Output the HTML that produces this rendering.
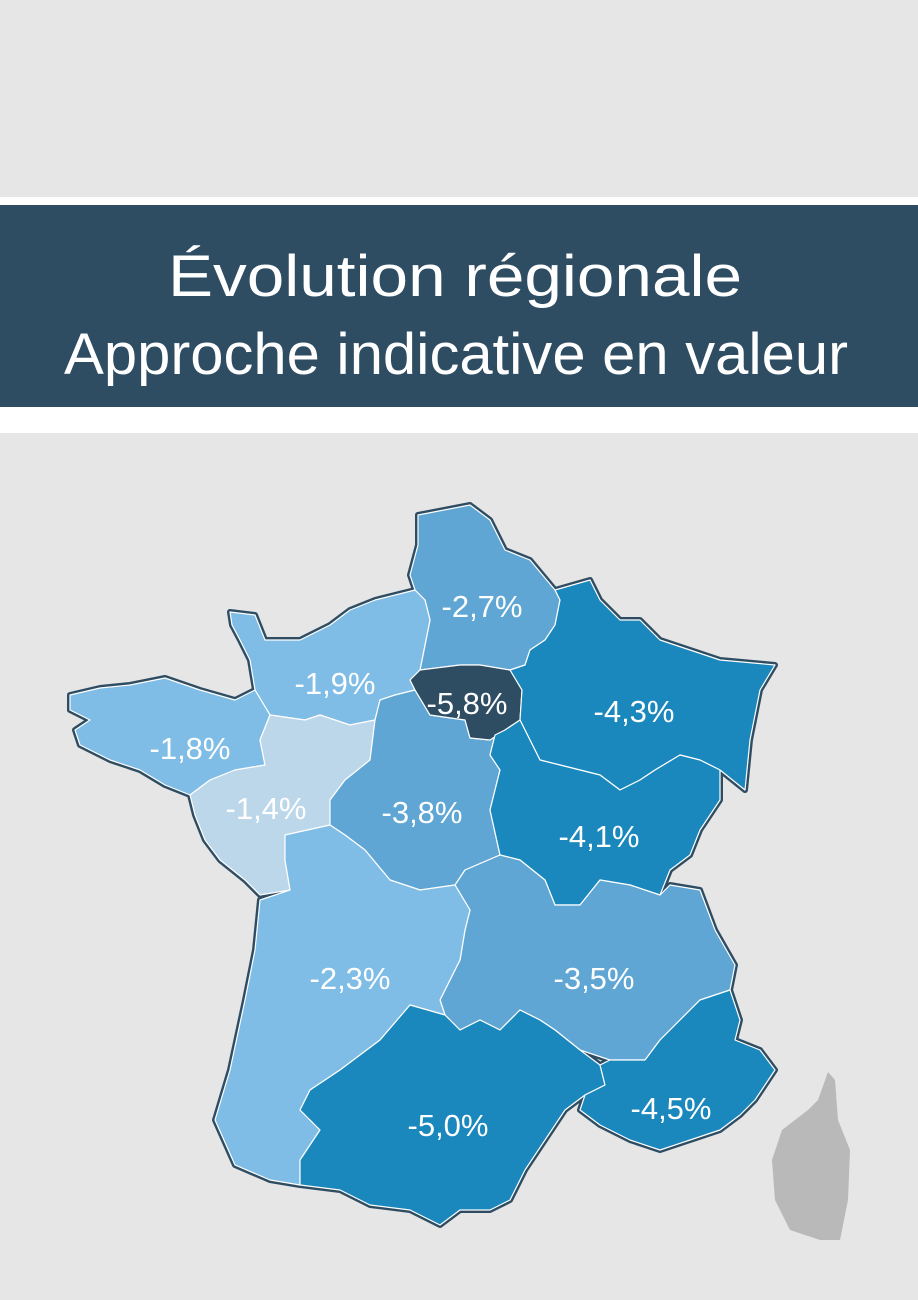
<!DOCTYPE html>
<html><head><meta charset="utf-8">
<style>
html,body{margin:0;padding:0;background:#e6e6e6;}
svg{display:block;}
</style></head>
<body>
<svg id="map" width="918" height="1300" viewBox="0 0 918 1300" xmlns="http://www.w3.org/2000/svg">
  <rect x="0" y="0" width="918" height="1300" fill="#e6e6e6"/>
  <rect x="0" y="197" width="918" height="236" fill="#ffffff"/>
  <rect x="0" y="205" width="918" height="202" fill="#2e4d63"/>
  <text x="455" y="296" fill="#ffffff" font-family="Liberation Sans, sans-serif" font-size="58" text-anchor="middle" textLength="574" lengthAdjust="spacingAndGlyphs">Évolution régionale</text>
  <text x="456" y="374" fill="#ffffff" font-family="Liberation Sans, sans-serif" font-size="58" text-anchor="middle" textLength="784" lengthAdjust="spacingAndGlyphs">Approche indicative en valeur</text>
  <polygon points="828,1072 835,1080 838,1120 850,1150 848,1200 840,1240 820,1240 790,1230 775,1200 772,1160 782,1130 808,1110 818,1100" fill="#b9b9b9"/>
  <g id="outlines"></g>
  <g id="regions"></g>
  <g id="labels"></g>
</svg>
<script>
const regionNames = ["hauts-de-france","normandie","bretagne","pays-de-la-loire","centre-val-de-loire","ile-de-france","grand-est","bourgogne-franche-comte","auvergne-rhone-alpes","nouvelle-aquitaine","occitanie","provence-alpes-cote-azur"];
const regionValues = [-2.7,-1.9,-1.8,-1.4,-3.8,-5.8,-4.3,-4.1,-3.5,-2.3,-5.0,-4.5];

const shapes = {
"hauts-de-france":[[418,515],[470,505],[490,520],[505,550],[530,560],[555,590],[560,600],[555,625],[545,640],[530,650],[525,665],[510,670],[480,665],[460,665],[420,670],[425,645],[430,620],[425,600],[415,590],[410,575],[418,545]],
"normandie":[[230,612],[255,615],[265,640],[300,640],[330,625],[350,610],[375,600],[415,590],[425,600],[430,620],[425,645],[420,670],[410,680],[415,690],[395,695],[380,700],[375,720],[350,725],[320,715],[305,720],[270,715],[255,690],[250,660],[240,640],[232,625]],
"bretagne":[[70,695],[100,688],[130,685],[165,678],[200,690],[235,700],[255,690],[270,715],[260,740],[265,765],[235,770],[210,780],[190,795],[165,785],[140,770],[110,760],[80,745],[75,730],[90,720],[70,710]],
"pays-de-la-loire":[[270,715],[305,720],[320,715],[350,725],[375,720],[370,760],[345,780],[330,800],[330,825],[285,835],[285,860],[290,890],[260,895],[245,880],[220,860],[205,840],[195,815],[190,795],[210,780],[235,770],[265,765],[260,740]],
"centre-val-de-loire":[[380,700],[395,695],[415,690],[430,715],[465,720],[470,738],[490,740],[495,735],[490,755],[500,770],[495,790],[490,810],[500,855],[465,870],[455,885],[420,890],[390,880],[365,850],[345,835],[330,825],[330,800],[345,780],[370,760],[375,720]],
"ile-de-france":[[410,680],[420,670],[460,665],[480,665],[510,670],[522,690],[520,720],[505,730],[490,740],[470,738],[465,720],[430,715],[415,690]],
"grand-est":[[555,590],[590,580],[600,600],[620,620],[640,620],[660,640],[690,650],[720,660],[775,665],[760,690],[750,740],[745,790],[720,770],[700,760],[680,755],[655,770],[640,780],[620,790],[600,775],[580,770],[560,765],[540,760],[525,730],[520,720],[522,690],[510,670],[525,665],[530,650],[545,640],[555,625],[560,600]],
"bourgogne-franche-comte":[[520,720],[525,730],[540,760],[560,765],[580,770],[600,775],[620,790],[640,780],[655,770],[680,755],[700,760],[720,770],[720,800],[700,830],[690,855],[670,870],[660,895],[630,885],[600,880],[580,905],[555,905],[545,880],[520,860],[500,855],[490,810],[495,790],[500,770],[490,755],[495,735],[505,730]],
"auvergne-rhone-alpes":[[500,855],[520,860],[545,880],[555,905],[580,905],[600,880],[630,885],[660,895],[670,885],[700,890],[715,930],[735,965],[730,990],[700,1000],[680,1020],[660,1040],[645,1060],[610,1060],[580,1050],[555,1030],[540,1020],[520,1010],[500,1030],[480,1020],[460,1030],[445,1015],[440,1000],[450,980],[460,960],[465,930],[470,910],[455,885],[465,870]],
"nouvelle-aquitaine":[[285,835],[330,825],[345,835],[365,850],[390,880],[420,890],[455,885],[470,910],[465,930],[460,960],[450,980],[440,1000],[445,1015],[410,1005],[380,1040],[340,1070],[310,1090],[300,1110],[320,1130],[300,1160],[300,1185],[270,1180],[235,1165],[215,1120],[230,1070],[245,1000],[255,950],[260,900],[290,890],[285,860]],
"occitanie":[[300,1110],[310,1090],[340,1070],[380,1040],[410,1005],[445,1015],[460,1030],[480,1020],[500,1030],[520,1010],[540,1020],[555,1030],[580,1050],[600,1065],[605,1085],[585,1095],[565,1110],[545,1140],[525,1170],[510,1200],[490,1210],[460,1210],[440,1225],[410,1210],[370,1205],[340,1190],[300,1185],[300,1160],[320,1130]],
"provence-alpes-cote-azur":[[645,1060],[660,1040],[680,1020],[700,1000],[730,990],[740,1020],[735,1040],[760,1050],[775,1070],[755,1100],[740,1115],[720,1130],[690,1140],[660,1150],[630,1140],[600,1125],[580,1110],[585,1095],[605,1085],[600,1065],[610,1060]]
};
const labelPos = {
"hauts-de-france":[482,606],"normandie":[335,683],"bretagne":[190,748],"pays-de-la-loire":[266,808],
"centre-val-de-loire":[422,812],"ile-de-france":[467,703],"grand-est":[634,711],"bourgogne-franche-comte":[599,836],
"auvergne-rhone-alpes":[594,978],"nouvelle-aquitaine":[350,978],"occitanie":[448,1125],"provence-alpes-cote-azur":[671,1108]
};
function colorFor(v){
  if (v <= -5.5) return "#2e4d63";
  if (v <= -4.0) return "#1a87bd";
  if (v <= -2.5) return "#5fa6d4";
  if (v <= -1.75) return "#7fbde6";
  return "#bcd6ea";
}
const NS = "http://www.w3.org/2000/svg";
const gO = document.getElementById("outlines");
const gR = document.getElementById("regions");
const gL = document.getElementById("labels");
regionNames.forEach((name, i) => {
  const pts = shapes[name].map(q => q.join(",")).join(" ");
  const o = document.createElementNS(NS, "polygon");
  o.setAttribute("points", pts);
  o.setAttribute("fill", "#2e4d63");
  o.setAttribute("stroke", "#2e4d63");
  o.setAttribute("stroke-width", "6");
  o.setAttribute("stroke-linejoin", "round");
  
  
  gO.appendChild(o);
  const v = regionValues[i];
  const p = document.createElementNS(NS, "polygon");
  p.setAttribute("points", pts);
  p.setAttribute("fill", colorFor(v));
  p.setAttribute("stroke", "#ffffff");
  p.setAttribute("stroke-width", "1.2");
  p.setAttribute("stroke-linejoin", "round");
  
  
  gR.appendChild(p);
});
regionNames.forEach((name, i) => {
  const v = regionValues[i];
  const t = document.createElementNS(NS, "text");
  t.setAttribute("x", labelPos[name][0]);
  t.setAttribute("y", labelPos[name][1] + 11);
  t.setAttribute("fill", "#ffffff");
  t.setAttribute("font-family", "Liberation Sans, sans-serif");
  t.setAttribute("font-size", "31");
  t.setAttribute("text-anchor", "middle");
  t.textContent = v.toFixed(1).replace(".", ",") + "%";
  
  
  gL.appendChild(t);
});
</script>
</body></html>
